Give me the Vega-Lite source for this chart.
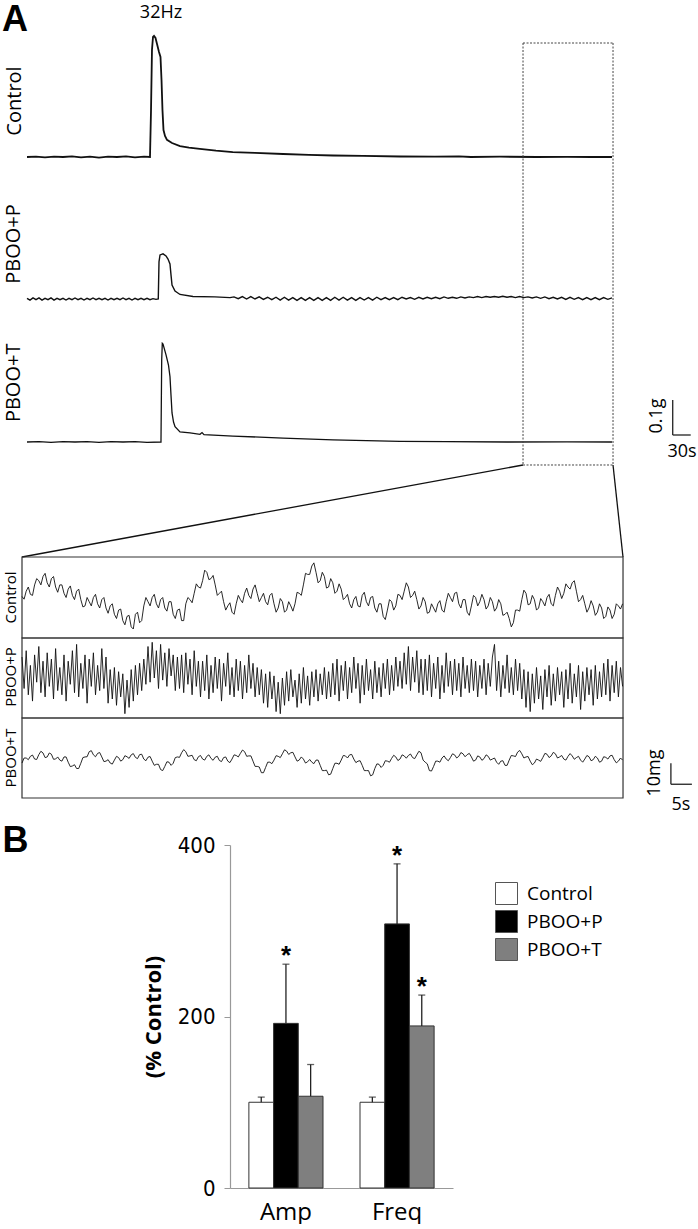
{
"$schema": "https://vega.github.io/schema/vega-lite/v6.json",
"padding": 0,
"spacing": 0,
"bounds": "flush",
"background": "white",
"config": {"view": {"stroke": null}, "font": "Open Sans", "text": {"color": "#000"}},
"datasets": {
"ctrl": [{"t":0,"g":0},{"t":15,"g":0.001},{"t":30,"g":-0.001},{"t":45,"g":0.001},{"t":60,"g":0},{"t":75,"g":0.0015},{"t":90,"g":-0.001},{"t":105,"g":0.001},{"t":120,"g":-0.0015},{"t":135,"g":0.001},{"t":150,"g":0},{"t":165,"g":0.0015},{"t":180,"g":-0.001},{"t":195,"g":0.001},{"t":205,"g":0},{"t":206.7,"g":0.134},{"t":208.3,"g":0.306},{"t":210,"g":0.343},{"t":211.7,"g":0.346},{"t":214.2,"g":0.34},{"t":216.7,"g":0.323},{"t":220,"g":0.3},{"t":222.5,"g":0.286},{"t":224.2,"g":0.22},{"t":225.8,"g":0.134},{"t":227.5,"g":0.077},{"t":230,"g":0.06},{"t":233.3,"g":0.049},{"t":241.7,"g":0.04},{"t":255,"g":0.031},{"t":270,"g":0.027},{"t":288,"g":0.023},{"t":315,"g":0.018},{"t":343,"g":0.014},{"t":380,"g":0.012},{"t":427,"g":0.0086},{"t":470,"g":0.006},{"t":510,"g":0.0043},{"t":560,"g":0.003},{"t":622,"g":0.0014},{"t":680,"g":0.001},{"t":720,"g":0.002},{"t":740,"g":0},{"t":788,"g":0.001},{"t":850,"g":0},{"t":900,"g":0.0005},{"t":940,"g":0},{"t":975,"g":0}],
"pbp": [{"t":0,"g":0.002},{"t":5,"g":-0.003},{"t":10,"g":0.003},{"t":15,"g":-0.002},{"t":20,"g":0.003},{"t":25,"g":-0.003},{"t":30,"g":0.002},{"t":35,"g":-0.002},{"t":40,"g":0.003},{"t":45,"g":-0.003},{"t":50,"g":0.002},{"t":55,"g":-0.002},{"t":60,"g":0.002},{"t":65,"g":-0.003},{"t":70,"g":0.002},{"t":75,"g":-0.002},{"t":80,"g":0.003},{"t":85,"g":-0.002},{"t":90,"g":0.002},{"t":95,"g":-0.003},{"t":100,"g":0.002},{"t":105,"g":-0.002},{"t":110,"g":0.003},{"t":115,"g":-0.002},{"t":120,"g":0.002},{"t":125,"g":-0.002},{"t":130,"g":0.002},{"t":135,"g":-0.003},{"t":140,"g":0.002},{"t":145,"g":-0.002},{"t":150,"g":0.002},{"t":155,"g":-0.002},{"t":160,"g":0.003},{"t":165,"g":-0.002},{"t":170,"g":0.002},{"t":175,"g":-0.003},{"t":180,"g":0.002},{"t":185,"g":-0.002},{"t":190,"g":0.002},{"t":195,"g":-0.002},{"t":200,"g":0.002},{"t":205,"g":-0.002},{"t":210,"g":0.001},{"t":215,"g":-0.001},{"t":218.8,"g":0},{"t":220,"g":0.106},{"t":221.7,"g":0.126},{"t":226.7,"g":0.129},{"t":231.7,"g":0.123},{"t":235,"g":0.114},{"t":238.3,"g":0.1},{"t":240,"g":0.069},{"t":241.7,"g":0.04},{"t":246.7,"g":0.023},{"t":255,"g":0.013},{"t":276.7,"g":0.007},{"t":313,"g":0.006},{"t":338.3,"g":0.004},{"t":345,"g":0.006},{"t":352,"g":0.001},{"t":359,"g":0.007},{"t":366,"g":0},{"t":373,"g":0.007},{"t":380,"g":0},{"t":387,"g":0.006},{"t":394,"g":-0.001},{"t":401,"g":0.005},{"t":408,"g":-0.002},{"t":415,"g":0.005},{"t":422,"g":-0.003},{"t":429,"g":0.005},{"t":436,"g":-0.003},{"t":443,"g":0.004},{"t":450,"g":-0.004},{"t":457,"g":0.004},{"t":464,"g":-0.004},{"t":471,"g":0.004},{"t":478,"g":-0.004},{"t":485,"g":0.004},{"t":492,"g":-0.004},{"t":499,"g":0.004},{"t":506,"g":-0.004},{"t":513,"g":0.005},{"t":520,"g":-0.003},{"t":527,"g":0.005},{"t":534,"g":-0.003},{"t":541,"g":0.004},{"t":548,"g":-0.004},{"t":555,"g":0.004},{"t":562,"g":-0.003},{"t":569,"g":0.004},{"t":576,"g":-0.003},{"t":583,"g":0.005},{"t":590,"g":-0.002},{"t":597,"g":0.004},{"t":604,"g":-0.002},{"t":611,"g":0.004},{"t":618,"g":-0.002},{"t":625,"g":0.005},{"t":632,"g":0},{"t":639,"g":0.004},{"t":646,"g":-0.001},{"t":653,"g":0.005},{"t":660,"g":0},{"t":667,"g":0.005},{"t":674,"g":0.001},{"t":681,"g":0.005},{"t":688,"g":0.001},{"t":695,"g":0.006},{"t":702,"g":0.002},{"t":709,"g":0.005},{"t":716,"g":0.002},{"t":723,"g":0.006},{"t":730,"g":0.003},{"t":737,"g":0.006},{"t":744,"g":0.004},{"t":751,"g":0.007},{"t":758,"g":0.004},{"t":765,"g":0.007},{"t":772,"g":0.005},{"t":779,"g":0.007},{"t":786,"g":0.005},{"t":793,"g":0.008},{"t":800,"g":0.005},{"t":807,"g":0.007},{"t":814,"g":0.004},{"t":821,"g":0.007},{"t":828,"g":0.004},{"t":835,"g":0.006},{"t":842,"g":0.003},{"t":849,"g":0.006},{"t":856,"g":0.002},{"t":863,"g":0.006},{"t":870,"g":0.001},{"t":877,"g":0.005},{"t":884,"g":0},{"t":891,"g":0.005},{"t":898,"g":-0.001},{"t":905,"g":0.005},{"t":912,"g":-0.001},{"t":919,"g":0.004},{"t":926,"g":-0.002},{"t":933,"g":0.004},{"t":940,"g":-0.002},{"t":947,"g":0.004},{"t":954,"g":-0.002},{"t":961,"g":0.004},{"t":968,"g":-0.001},{"t":975,"g":0.003}],
"pbt": [{"t":0,"g":0},{"t":20,"g":0.001},{"t":40,"g":-0.001},{"t":60,"g":0.001},{"t":80,"g":0},{"t":100,"g":0.001},{"t":120,"g":-0.001},{"t":140,"g":0.001},{"t":160,"g":0},{"t":180,"g":0.001},{"t":200,"g":-0.001},{"t":223.3,"g":0},{"t":224.5,"g":0.234},{"t":225.5,"g":0.282},{"t":226.7,"g":0.28},{"t":231.7,"g":0.249},{"t":235.8,"g":0.22},{"t":238.3,"g":0.187},{"t":240,"g":0.134},{"t":241.7,"g":0.083},{"t":244.2,"g":0.057},{"t":246.7,"g":0.044},{"t":255,"g":0.029},{"t":271.7,"g":0.026},{"t":288.3,"g":0.022},{"t":291.7,"g":0.027},{"t":295,"g":0.021},{"t":343.3,"g":0.017},{"t":426.7,"g":0.011},{"t":510,"g":0.006},{"t":621.7,"g":0.002},{"t":700,"g":0.001},{"t":800,"g":0},{"t":900,"g":0.0005},{"t":975,"g":0}],
"zc": [{"t":0,"v":0.5},{"t":1,"v":3},{"t":2,"v":1.5},{"t":3,"v":6},{"t":4,"v":8},{"t":5,"v":10},{"t":6,"v":7},{"t":7,"v":9},{"t":8,"v":5},{"t":9,"v":6},{"t":10,"v":2},{"t":11,"v":4},{"t":12,"v":1},{"t":13,"v":3},{"t":14,"v":-1},{"t":15,"v":-4},{"t":16,"v":-2},{"t":17,"v":0},{"t":18,"v":-3},{"t":19,"v":-1},{"t":20,"v":-5},{"t":21,"v":-4},{"t":22,"v":-8},{"t":23,"v":-6},{"t":24,"v":-11},{"t":25,"v":-9},{"t":26,"v":-14},{"t":27,"v":-8},{"t":28,"v":-12},{"t":29,"v":-4},{"t":30,"v":-2},{"t":31,"v":0},{"t":32,"v":-3},{"t":33,"v":-1},{"t":34,"v":-5},{"t":35,"v":-2},{"t":36,"v":-8},{"t":37,"v":-6},{"t":38,"v":-11},{"t":39,"v":-3},{"t":40,"v":-1},{"t":41,"v":2},{"t":42,"v":5},{"t":43,"v":8},{"t":44,"v":12},{"t":45,"v":9},{"t":46,"v":6},{"t":47,"v":2},{"t":48,"v":-2},{"t":49,"v":-4},{"t":50,"v":-7},{"t":51,"v":-3},{"t":52,"v":-1},{"t":53,"v":2},{"t":54,"v":1},{"t":55,"v":4},{"t":56,"v":2},{"t":57,"v":0},{"t":58,"v":-2},{"t":59,"v":1},{"t":60,"v":-3},{"t":61,"v":-5},{"t":62,"v":-2},{"t":63,"v":-6},{"t":64,"v":-4},{"t":65,"v":-3},{"t":66,"v":2},{"t":67,"v":6},{"t":68,"v":11},{"t":69,"v":15},{"t":70,"v":12},{"t":71,"v":8},{"t":72,"v":10},{"t":73,"v":5},{"t":74,"v":7},{"t":75,"v":3},{"t":76,"v":4},{"t":77,"v":0},{"t":78,"v":-3},{"t":79,"v":-1},{"t":80,"v":-4},{"t":81,"v":1},{"t":82,"v":-2},{"t":83,"v":0},{"t":84,"v":-5},{"t":85,"v":-3},{"t":86,"v":-9},{"t":87,"v":-6},{"t":88,"v":-2},{"t":89,"v":-4},{"t":90,"v":1},{"t":91,"v":3},{"t":92,"v":5},{"t":93,"v":1},{"t":94,"v":-1},{"t":95,"v":-4},{"t":96,"v":-2},{"t":97,"v":-7},{"t":98,"v":-5},{"t":99,"v":-3},{"t":100,"v":-6},{"t":101,"v":-2},{"t":102,"v":0},{"t":103,"v":2},{"t":104,"v":-3},{"t":105,"v":-1},{"t":106,"v":-7},{"t":107,"v":-4},{"t":108,"v":0},{"t":109,"v":-2},{"t":110,"v":-1},{"t":111,"v":-4},{"t":112,"v":-2},{"t":113,"v":-5},{"t":114,"v":-3},{"t":115,"v":-8},{"t":116,"v":-10},{"t":117,"v":-12},{"t":118,"v":-6},{"t":119,"v":-1},{"t":120,"v":2},{"t":121,"v":-3},{"t":122,"v":-1},{"t":123,"v":-5},{"t":124,"v":-2},{"t":125,"v":0},{"t":126,"v":-3},{"t":127,"v":1},{"t":128,"v":3},{"t":129,"v":2},{"t":130,"v":5},{"t":131,"v":7},{"t":132,"v":3},{"t":133,"v":-1},{"t":134,"v":-3},{"t":135,"v":-5},{"t":136,"v":-4},{"t":137,"v":-7},{"t":138,"v":-5},{"t":139,"v":-9},{"t":140,"v":-6},{"t":141,"v":-8},{"t":142,"v":-4},{"t":143,"v":-3},
{"t":0.5,"v":-0.8},{"t":1.5,"v":5},{"t":2.5,"v":1},{"t":3.5,"v":9},{"t":4.5,"v":6},{"t":5.5,"v":11.5},{"t":6.5,"v":5},{"t":7.5,"v":10},{"t":8.5,"v":2.5},{"t":9.5,"v":6},{"t":10.5,"v":0},{"t":11.5,"v":5.5},{"t":12.5,"v":-1},{"t":13.5,"v":4},{"t":14.5,"v":-4.5},{"t":15.5,"v":0},{"t":16.5,"v":-4},{"t":17.5,"v":1.5},{"t":18.5,"v":-5},{"t":19.5,"v":0},{"t":20.5,"v":-7.5},{"t":21.5,"v":-3},{"t":22.5,"v":-10},{"t":23.5,"v":-5.5},{"t":24.5,"v":-13},{"t":25.5,"v":-8.5},{"t":26.5,"v":-15},{"t":27.5,"v":-7},{"t":28.5,"v":-11},{"t":29.5,"v":0},{"t":30.5,"v":-4},{"t":31.5,"v":1.5},{"t":32.5,"v":-5},{"t":33.5,"v":0},{"t":34.5,"v":-6.5},{"t":35.5,"v":-2},{"t":36.5,"v":-10},{"t":37.5,"v":-5.5},{"t":38.5,"v":-11},{"t":39.5,"v":0},{"t":40.5,"v":-2.5},{"t":41.5,"v":6.5},{"t":42.5,"v":4.5},{"t":43.5,"v":13},{"t":44.5,"v":8.5},{"t":45.5,"v":10.5},{"t":46.5,"v":1},{"t":47.5,"v":3},{"t":48.5,"v":-6},{"t":49.5,"v":-2.5},{"t":50.5,"v":-8},{"t":51.5,"v":1},{"t":52.5,"v":-2.5},{"t":53.5,"v":4.5},{"t":54.5,"v":-0.5},{"t":55.5,"v":6},{"t":56.5,"v":-2},{"t":57.5,"v":2},{"t":58.5,"v":-3.5},{"t":59.5,"v":2},{"t":60.5,"v":-7},{"t":61.5,"v":-0.5},{"t":62.5,"v":-7},{"t":63.5,"v":-2},{"t":64.5,"v":-6.5},{"t":65.5,"v":2.5},{"t":66.5,"v":1},{"t":67.5,"v":11.5},{"t":68.5,"v":11},{"t":69.5,"v":16.5},{"t":70.5,"v":7},{"t":71.5,"v":12},{"t":72.5,"v":4.5},{"t":73.5,"v":9},{"t":74.5,"v":2},{"t":75.5,"v":6.5},{"t":76.5,"v":-1},{"t":77.5,"v":1.5},{"t":78.5,"v":-5},{"t":79.5,"v":0.5},{"t":80.5,"v":-4.5},{"t":81.5,"v":2.5},{"t":82.5,"v":-4},{"t":83.5,"v":0.5},{"t":84.5,"v":-7},{"t":85.5,"v":-3},{"t":86.5,"v":-10.5},{"t":87.5,"v":-1},{"t":88.5,"v":-6},{"t":89.5,"v":1.5},{"t":90.5,"v":-1},{"t":91.5,"v":7},{"t":92.5,"v":0},{"t":93.5,"v":3},{"t":94.5,"v":-5.5},{"t":95.5,"v":0},{"t":96.5,"v":-7.5},{"t":97.5,"v":-3},{"t":98.5,"v":-7},{"t":99.5,"v":-1.5},{"t":100.5,"v":-7},{"t":101.5,"v":2},{"t":102.5,"v":-2},{"t":103.5,"v":2.5},{"t":104.5,"v":-5},{"t":105.5,"v":-1},{"t":106.5,"v":-8.5},{"t":107.5,"v":1},{"t":108.5,"v":-4},{"t":109.5,"v":1.5},{"t":110.5,"v":-5.5},{"t":111.5,"v":0},{"t":112.5,"v":-6.5},{"t":113.5,"v":-1},{"t":114.5,"v":-8.5},{"t":115.5,"v":-7},{"t":116.5,"v":-14},{"t":117.5,"v":-6},{"t":118.5,"v":-6.5},{"t":119.5,"v":3.5},{"t":120.5,"v":-3.5},{"t":121.5,"v":1},{"t":122.5,"v":-6},{"t":123.5,"v":-0.5},{"t":124.5,"v":-4},{"t":125.5,"v":1.5},{"t":126.5,"v":-4},{"t":127.5,"v":5},{"t":128.5,"v":-0.5},{"t":129.5,"v":6.5},{"t":130.5,"v":4},{"t":131.5,"v":8},{"t":132.5,"v":-2},{"t":133.5,"v":1},{"t":134.5,"v":-7},{"t":135.5,"v":-1.5},{"t":136.5,"v":-8.5},{"t":137.5,"v":-3},{"t":138.5,"v":-10},{"t":139.5,"v":-4.5},{"t":140.5,"v":-10},{"t":141.5,"v":-3},{"t":142.5,"v":-5.5}],
"zp": [{"t":0,"v":10},{"t":0.5,"v":-5},{"t":1,"v":13},{"t":1.5,"v":-8},{"t":2,"v":6},{"t":2.5,"v":-11},{"t":3,"v":11},{"t":3.5,"v":-2},{"t":4,"v":15},{"t":4.5,"v":-7},{"t":5,"v":8},{"t":5.5,"v":-9},{"t":6,"v":12},{"t":6.5,"v":-4},{"t":7,"v":9},{"t":7.5,"v":-10},{"t":8,"v":14},{"t":8.5,"v":-6},{"t":9,"v":5},{"t":9.5,"v":-8},{"t":10,"v":11},{"t":10.5,"v":-11},{"t":11,"v":8},{"t":11.5,"v":-3},{"t":12,"v":13},{"t":12.5,"v":-7},{"t":13,"v":16},{"t":13.5,"v":-9},{"t":14,"v":7},{"t":14.5,"v":-5},{"t":15,"v":11},{"t":15.5,"v":-12},{"t":16,"v":9},{"t":16.5,"v":-4},{"t":17,"v":12},{"t":17.5,"v":-8},{"t":18,"v":6},{"t":18.5,"v":-6},{"t":19,"v":14},{"t":19.5,"v":-5},{"t":20,"v":10},{"t":20.5,"v":-12},{"t":21,"v":4},{"t":21.5,"v":-10},{"t":22,"v":5},{"t":22.5,"v":-13},{"t":23,"v":3},{"t":23.5,"v":-9},{"t":24,"v":2},{"t":24.5,"v":-17},{"t":25,"v":-1},{"t":25.5,"v":-14},{"t":26,"v":4},{"t":26.5,"v":-11},{"t":27,"v":6},{"t":27.5,"v":-8},{"t":28,"v":7},{"t":28.5,"v":-6},{"t":29,"v":9},{"t":29.5,"v":-3},{"t":30,"v":15},{"t":30.5,"v":-2},{"t":31,"v":17},{"t":31.5,"v":0},{"t":32,"v":13},{"t":32.5,"v":-5},{"t":33,"v":16},{"t":33.5,"v":-1},{"t":34,"v":12},{"t":34.5,"v":-4},{"t":35,"v":14},{"t":35.5,"v":1},{"t":36,"v":11},{"t":36.5,"v":-6},{"t":37,"v":10},{"t":37.5,"v":-5},{"t":38,"v":11},{"t":38.5,"v":-7},{"t":39,"v":12},{"t":39.5,"v":-3},{"t":40,"v":9},{"t":40.5,"v":-8},{"t":41,"v":13},{"t":41.5,"v":-4},{"t":42,"v":8},{"t":42.5,"v":-9},{"t":43,"v":8},{"t":43.5,"v":-6},{"t":44,"v":11},{"t":44.5,"v":-10},{"t":45,"v":6},{"t":45.5,"v":-7},{"t":46,"v":10},{"t":46.5,"v":-5},{"t":47,"v":9},{"t":47.5,"v":-11},{"t":48,"v":7},{"t":48.5,"v":-4},{"t":49,"v":12},{"t":49.5,"v":-8},{"t":50,"v":5},{"t":50.5,"v":-9},{"t":51,"v":9},{"t":51.5,"v":-6},{"t":52,"v":8},{"t":52.5,"v":-10},{"t":53,"v":6},{"t":53.5,"v":-7},{"t":54,"v":11},{"t":54.5,"v":-5},{"t":55,"v":7},{"t":55.5,"v":-9},{"t":56,"v":5},{"t":56.5,"v":-8},{"t":57,"v":4},{"t":57.5,"v":-12},{"t":58,"v":2},{"t":58.5,"v":-14},{"t":59,"v":3},{"t":59.5,"v":-10},{"t":60,"v":1},{"t":60.5,"v":-16},{"t":61,"v":-2},{"t":61.5,"v":-17},{"t":62,"v":0},{"t":62.5,"v":-13},{"t":63,"v":3},{"t":63.5,"v":-11},{"t":64,"v":4},{"t":64.5,"v":-9},{"t":65,"v":-1},{"t":65.5,"v":-14},{"t":66,"v":2},{"t":66.5,"v":-12},{"t":67,"v":5},{"t":67.5,"v":-10},{"t":68,"v":1},{"t":68.5,"v":-13},{"t":69,"v":3},{"t":69.5,"v":-9},{"t":70,"v":4},{"t":70.5,"v":-11},{"t":71,"v":2},{"t":71.5,"v":-8},{"t":72,"v":5},{"t":72.5,"v":-10},{"t":73,"v":3},{"t":73.5,"v":-9},{"t":74,"v":7},{"t":74.5,"v":-8},{"t":75,"v":9},{"t":75.5,"v":-11},{"t":76,"v":6},{"t":76.5,"v":-6},{"t":77,"v":8},{"t":77.5,"v":-10},{"t":78,"v":5},{"t":78.5,"v":-7},{"t":79,"v":10},{"t":79.5,"v":-5},{"t":80,"v":7},{"t":80.5,"v":-12},{"t":81,"v":6},{"t":81.5,"v":-8},{"t":82,"v":9},{"t":82.5,"v":-6},{"t":83,"v":4},{"t":83.5,"v":-10},{"t":84,"v":8},{"t":84.5,"v":-7},{"t":85,"v":5},{"t":85.5,"v":-9},{"t":86,"v":7},{"t":86.5,"v":-5},{"t":87,"v":9},{"t":87.5,"v":-8},{"t":88,"v":6},{"t":88.5,"v":-6},{"t":89,"v":10},{"t":89.5,"v":-4},{"t":90,"v":8},{"t":90.5,"v":-5},{"t":91,"v":12},{"t":91.5,"v":-3},{"t":92,"v":15},{"t":92.5,"v":-6},{"t":93,"v":10},{"t":93.5,"v":-2},{"t":94,"v":13},{"t":94.5,"v":-7},{"t":95,"v":9},{"t":95.5,"v":-8},{"t":96,"v":9},{"t":96.5,"v":-6},{"t":97,"v":11},{"t":97.5,"v":-9},{"t":98,"v":7},{"t":98.5,"v":-5},{"t":99,"v":10},{"t":99.5,"v":-10},{"t":100,"v":6},{"t":100.5,"v":-7},{"t":101,"v":12},{"t":101.5,"v":-4},{"t":102,"v":8},{"t":102.5,"v":-8},{"t":103,"v":9},{"t":103.5,"v":-6},{"t":104,"v":7},{"t":104.5,"v":-9},{"t":105,"v":10},{"t":105.5,"v":-5},{"t":106,"v":6},{"t":106.5,"v":-7},{"t":107,"v":9},{"t":107.5,"v":-6},{"t":108,"v":8},{"t":108.5,"v":-9},{"t":109,"v":6},{"t":109.5,"v":-5},{"t":110,"v":9},{"t":110.5,"v":-8},{"t":111,"v":7},{"t":111.5,"v":-4},{"t":112,"v":10},{"t":112.5,"v":16},{"t":113,"v":-6},{"t":113.5,"v":8},{"t":114,"v":-9},{"t":114.5,"v":6},{"t":115,"v":-5},{"t":115.5,"v":11},{"t":116,"v":-7},{"t":116.5,"v":5},{"t":117,"v":-8},{"t":117.5,"v":9},{"t":118,"v":-6},{"t":118.5,"v":7},{"t":119,"v":-10},{"t":119.5,"v":4},{"t":120,"v":-14},{"t":120.5,"v":3},{"t":121,"v":-16},{"t":121.5,"v":2},{"t":122,"v":-12},{"t":122.5,"v":5},{"t":123,"v":-10},{"t":123.5,"v":1},{"t":124,"v":-15},{"t":124.5,"v":4},{"t":125,"v":-9},{"t":125.5,"v":6},{"t":126,"v":-13},{"t":126.5,"v":2},{"t":127,"v":-11},{"t":127.5,"v":5},{"t":128,"v":-8},{"t":128.5,"v":3},{"t":129,"v":-14},{"t":129.5,"v":4},{"t":130,"v":-10},{"t":130.5,"v":7},{"t":131,"v":-12},{"t":131.5,"v":2},{"t":132,"v":-9},{"t":132.5,"v":6},{"t":133,"v":-15},{"t":133.5,"v":3},{"t":134,"v":-11},{"t":134.5,"v":5},{"t":135,"v":-8},{"t":135.5,"v":4},{"t":136,"v":-13},{"t":136.5,"v":6},{"t":137,"v":-10},{"t":137.5,"v":3},{"t":138,"v":-9},{"t":138.5,"v":7},{"t":139,"v":-8},{"t":139.5,"v":9},{"t":140,"v":-11},{"t":140.5,"v":6},{"t":141,"v":-7},{"t":141.5,"v":8},{"t":142,"v":-9},{"t":142.5,"v":5},{"t":143,"v":-4}],
"zt": [{"t":0,"v":-2.4},{"t":1,"v":0},{"t":2,"v":0.8},{"t":3,"v":-0.5},{"t":4,"v":1.6},{"t":5,"v":2.4},{"t":6,"v":0.5},{"t":7,"v":1.8},{"t":8,"v":-0.5},{"t":9,"v":-1},{"t":10,"v":0.5},{"t":11,"v":-2},{"t":12,"v":-3.8},{"t":13,"v":-5},{"t":14,"v":-2.5},{"t":15,"v":0.5},{"t":16,"v":3},{"t":17,"v":1.5},{"t":18,"v":2.2},{"t":19,"v":0.5},{"t":20,"v":-1.5},{"t":21,"v":-2.4},{"t":22,"v":-1},{"t":23,"v":0.2},{"t":24,"v":-0.8},{"t":25,"v":0.6},{"t":26,"v":1.5},{"t":27,"v":0.3},{"t":28,"v":1.6},{"t":29,"v":-0.5},{"t":30,"v":0.4},{"t":31,"v":-1.5},{"t":32,"v":-3},{"t":33,"v":-5.5},{"t":34,"v":-4},{"t":35,"v":-2},{"t":36,"v":-2.5},{"t":37,"v":0.5},{"t":38,"v":2.5},{"t":39,"v":3},{"t":40,"v":1},{"t":41,"v":-0.8},{"t":42,"v":0.6},{"t":43,"v":-0.5},{"t":44,"v":0.8},{"t":45,"v":-0.2},{"t":46,"v":0.4},{"t":47,"v":-1.2},{"t":48,"v":0.2},{"t":49,"v":-1.5},{"t":50,"v":-0.5},{"t":51,"v":1.2},{"t":52,"v":2.2},{"t":53,"v":3},{"t":54,"v":1},{"t":55,"v":-1.5},{"t":56,"v":-4},{"t":57,"v":-7},{"t":58,"v":-4.5},{"t":59,"v":-2},{"t":60,"v":-1},{"t":61,"v":0.8},{"t":62,"v":2},{"t":63,"v":3.3},{"t":64,"v":2.5},{"t":65,"v":0.5},{"t":66,"v":-1},{"t":67,"v":-0.5},{"t":68,"v":-1.8},{"t":69,"v":-2},{"t":70,"v":-1},{"t":71,"v":-3.5},{"t":72,"v":-6},{"t":73,"v":-8},{"t":74,"v":-5},{"t":75,"v":-2.5},{"t":76,"v":-1},{"t":77,"v":1},{"t":78,"v":1.5},{"t":79,"v":-0.5},{"t":80,"v":-1.5},{"t":81,"v":-3.5},{"t":82,"v":-6},{"t":83,"v":-8.5},{"t":84,"v":-5},{"t":85,"v":-3},{"t":86,"v":-3.5},{"t":87,"v":-1.5},{"t":88,"v":-0.2},{"t":89,"v":0.5},{"t":90,"v":-0.5},{"t":91,"v":1},{"t":92,"v":1.2},{"t":93,"v":0.2},{"t":94,"v":1.5},{"t":95,"v":2.5},{"t":96,"v":-2},{"t":97,"v":-6},{"t":98,"v":-4},{"t":99,"v":-1.5},{"t":100,"v":0},{"t":101,"v":-0.5},{"t":102,"v":0.2},{"t":103,"v":1.5},{"t":104,"v":0.8},{"t":105,"v":2},{"t":106,"v":1.6},{"t":107,"v":0.5},{"t":108,"v":-1},{"t":109,"v":0.5},{"t":110,"v":-0.3},{"t":111,"v":0.8},{"t":112,"v":-0.5},{"t":113,"v":-2},{"t":114,"v":-1.5},{"t":115,"v":-3.5},{"t":116,"v":-1},{"t":117,"v":1},{"t":118,"v":2.8},{"t":119,"v":2},{"t":120,"v":0.5},{"t":121,"v":-1.5},{"t":122,"v":-2.4},{"t":123,"v":-1},{"t":124,"v":0.2},{"t":125,"v":1.8},{"t":126,"v":1},{"t":127,"v":2},{"t":128,"v":0.5},{"t":129,"v":-0.5},{"t":130,"v":0.8},{"t":131,"v":1},{"t":132,"v":0.2},{"t":133,"v":-1},{"t":134,"v":-0.5},{"t":135,"v":0.6},{"t":136,"v":-0.8},{"t":137,"v":0},{"t":138,"v":-1.5},{"t":139,"v":0.3},{"t":140,"v":1},{"t":141,"v":-0.8},{"t":142,"v":-1.5},{"t":143,"v":-1},
{"t":0.5,"v":0},{"t":1.5,"v":-0.8},{"t":2.5,"v":1.4},{"t":3.5,"v":-0.7},{"t":4.5,"v":3.2},{"t":5.5,"v":0.2},{"t":6.5,"v":2.4},{"t":7.5,"v":-0.6},{"t":8.5,"v":0.5},{"t":9.5,"v":-1.5},{"t":10.5,"v":0.5},{"t":11.5,"v":-4.1},{"t":12.5,"v":-3.2},{"t":13.5,"v":-5},{"t":14.5,"v":0.2},{"t":15.5,"v":0.6},{"t":16.5,"v":3.5},{"t":17.5,"v":0.6},{"t":18.5,"v":2.6},{"t":19.5,"v":-1.7},{"t":20.5,"v":-0.8},{"t":21.5,"v":-2.9},{"t":22.5,"v":0.8},{"t":23.5,"v":-1.5},{"t":24.5,"v":1.1},{"t":25.5,"v":-0.2},{"t":26.5,"v":2.1},{"t":27.5,"v":-0.3},{"t":28.5,"v":1.8},{"t":29.5,"v":-1.3},{"t":30.5,"v":0.7},{"t":31.5,"v":-3.5},{"t":32.5,"v":-3},{"t":33.5,"v":-6},{"t":34.5,"v":-1.8},{"t":35.5,"v":-3.5},{"t":36.5,"v":0.2},{"t":37.5,"v":0.3},{"t":38.5,"v":4},{"t":39.5,"v":0.8},{"t":40.5,"v":1.3},{"t":41.5,"v":-1.3},{"t":42.5,"v":1.2},{"t":43.5,"v":-1},{"t":44.5,"v":1.5},{"t":45.5,"v":-1.1},{"t":46.5,"v":0.8},{"t":47.5,"v":-1.7},{"t":48.5,"v":0.5},{"t":49.5,"v":-2.2},{"t":50.5,"v":1.5},{"t":51.5,"v":0.5},{"t":52.5,"v":3.8},{"t":53.5,"v":0.8},{"t":54.5,"v":1},{"t":55.5,"v":-4},{"t":56.5,"v":-4.3},{"t":57.5,"v":-7},{"t":58.5,"v":-2},{"t":59.5,"v":-2.7},{"t":60.5,"v":1.1},{"t":61.5,"v":0.2},{"t":62.5,"v":3.9},{"t":63.5,"v":1.7},{"t":64.5,"v":2.7},{"t":65.5,"v":-1.5},{"t":66.5,"v":0.5},{"t":67.5,"v":-2.4},{"t":68.5,"v":-0.7},{"t":69.5,"v":-2.7},{"t":70.5,"v":-1},{"t":71.5,"v":-6},{"t":72.5,"v":-5.8},{"t":73.5,"v":-7.7},{"t":74.5,"v":-2.5},{"t":75.5,"v":-3},{"t":76.5,"v":1.2},{"t":77.5,"v":0},{"t":78.5,"v":1.7},{"t":79.5,"v":-2.2},{"t":80.5,"v":-1.3},{"t":81.5,"v":-6},{"t":82.5,"v":-6},{"t":83.5,"v":-8},{"t":84.5,"v":-2.8},{"t":85.5,"v":-4.5},{"t":86.5,"v":-1.3},{"t":87.5,"v":-2},{"t":88.5,"v":1.3},{"t":89.5,"v":-1.2},{"t":90.5,"v":1.5},{"t":91.5,"v":-0.1},{"t":92.5,"v":1.9},{"t":93.5,"v":-0.3},{"t":94.5,"v":3.2},{"t":95.5,"v":-1},{"t":96.5,"v":-2.8},{"t":97.5,"v":-6.2},{"t":98.5,"v":-1.5},{"t":99.5,"v":-2},{"t":100.5,"v":1},{"t":101.5,"v":-1.3},{"t":102.5,"v":2},{"t":103.5,"v":0},{"t":104.5,"v":2.6},{"t":105.5,"v":0.6},{"t":106.5,"v":2.2},{"t":107.5,"v":-1.5},{"t":108.5,"v":1},{"t":109.5,"v":-1.1},{"t":110.5,"v":1.5},{"t":111.5,"v":-1},{"t":112.5,"v":0},{"t":113.5,"v":-3},{"t":114.5,"v":-1.3},{"t":115.5,"v":-3.5},{"t":116.5,"v":1.2},{"t":117.5,"v":0.7},{"t":118.5,"v":3.6},{"t":119.5,"v":0},{"t":120.5,"v":0.7},{"t":121.5,"v":-3.2},{"t":122.5,"v":-0.5},{"t":123.5,"v":-1.6},{"t":124.5,"v":2.2},{"t":125.5,"v":0.2},{"t":126.5,"v":2.7},{"t":127.5,"v":0},{"t":128.5,"v":1.2},{"t":129.5,"v":-1},{"t":130.5,"v":2.1},{"t":131.5,"v":-0.6},{"t":132.5,"v":0.8},{"t":133.5,"v":-2},{"t":134.5,"v":1.2},{"t":135.5,"v":-1.3},{"t":136.5,"v":0.8},{"t":137.5,"v":-2},{"t":138.5,"v":0.6},{"t":139.5,"v":-0.5},{"t":140.5,"v":1.3},{"t":141.5,"v":-2.3},{"t":142.5,"v":0}],
"bars": [{"measure":"Amp","group":"Control","value":100,"hi":106,"sig":""},{"measure":"Amp","group":"PBOO+P","value":192,"hi":261,"sig":"*"},{"measure":"Amp","group":"PBOO+T","value":107,"hi":144,"sig":""},{"measure":"Freq","group":"Control","value":100,"hi":106,"sig":""},{"measure":"Freq","group":"PBOO+P","value":308,"hi":378,"sig":"*"},{"measure":"Freq","group":"PBOO+T","value":189,"hi":225,"sig":"*"}]
},
"vconcat": [
{
"width": 698, "height": 228,
"encoding": {
"x": {"field": "t", "type": "quantitative", "scale": {"domain": [-45, 1118.333], "nice": false, "zero": false}, "axis": null},
"y": {"field": "g", "type": "quantitative", "scale": {"domain": [-0.20286, 0.44857], "nice": false, "zero": false}, "axis": null}
},
"layer": [
{"data": {"name": "ctrl"}, "mark": {"type": "line", "color": "#111", "strokeWidth": 1.8}},
{"data": {"values": [{"t": 826.7, "g": 0.3257, "t2": 976.7, "g2": 0.3257}, {"t": 826.7, "g": 0.3257, "t2": 826.7, "g2": -0.20286}, {"t": 976.7, "g": 0.3257, "t2": 976.7, "g2": -0.20286}]}, "mark": {"type": "rule", "color": "#444", "strokeWidth": 1, "strokeDash": [2, 1.5]}, "encoding": {"x2": {"field": "t2"}, "y2": {"field": "g2"}}},
{"data": {"values": [{"t": -20, "g": 0.36, "label": "A"}]}, "mark": {"type": "text", "font": "Liberation Sans", "fontWeight": "bold", "fontSize": 36, "align": "center", "baseline": "alphabetic"}, "encoding": {"text": {"field": "label"}}},
{"data": {"values": [{"t": 223.3, "g": 0.397, "label": "32Hz"}]}, "mark": {"type": "text", "fontSize": 18, "align": "center", "baseline": "alphabetic"}, "encoding": {"text": {"field": "label"}}},
{"data": {"values": [{"t": -20, "g": 0.16, "label": "Control"}]}, "mark": {"type": "text", "fontSize": 20, "angle": 270, "align": "center", "baseline": "middle"}, "encoding": {"text": {"field": "label"}}}
]
},
{
"width": 698, "height": 143,
"encoding": {
"x": {"field": "t", "type": "quantitative", "scale": {"domain": [-45, 1118.333], "nice": false, "zero": false}, "axis": null},
"y": {"field": "g", "type": "quantitative", "scale": {"domain": [-0.20571, 0.20286], "nice": false, "zero": false}, "axis": null}
},
"layer": [
{"data": {"name": "pbp"}, "mark": {"type": "line", "color": "#111", "strokeWidth": 1.4}},
{"data": {"values": [{"t": 826.7, "g": 0.20286, "t2": 826.7, "g2": -0.20571}, {"t": 976.7, "g": 0.20286, "t2": 976.7, "g2": -0.20571}]}, "mark": {"type": "rule", "color": "#444", "strokeWidth": 1, "strokeDash": [2, 1.5]}, "encoding": {"x2": {"field": "t2"}, "y2": {"field": "g2"}}},
{"data": {"values": [{"t": -21.7, "g": 0.157, "label": "PBOO+P"}]}, "mark": {"type": "text", "fontSize": 20, "angle": 270, "align": "center", "baseline": "middle"}, "encoding": {"text": {"field": "label"}}}
]
},
{
"width": 698, "height": 186,
"encoding": {
"x": {"field": "t", "type": "quantitative", "scale": {"domain": [-45, 1118.333], "nice": false, "zero": false}, "axis": null},
"y": {"field": "g", "type": "quantitative", "scale": {"domain": [-0.32857, 0.20286], "nice": false, "zero": false}, "axis": null}
},
"layer": [
{"data": {"name": "pbt"}, "mark": {"type": "line", "color": "#111", "strokeWidth": 1.3}},
{"data": {"values": [{"t": 826.7, "g": 0.20286, "t2": 826.7, "g2": -0.0657}, {"t": 976.7, "g": 0.20286, "t2": 976.7, "g2": -0.0657}, {"t": 826.7, "g": -0.0657, "t2": 976.7, "g2": -0.0657}]}, "mark": {"type": "rule", "color": "#444", "strokeWidth": 1, "strokeDash": [2, 1.5]}, "encoding": {"x2": {"field": "t2"}, "y2": {"field": "g2"}}},
{"data": {"values": [{"t": 826.7, "g": -0.0657, "t2": -8.33, "g2": -0.32857}, {"t": 976.7, "g": -0.0657, "t2": 993.3, "g2": -0.32857}]}, "mark": {"type": "rule", "color": "#111", "strokeWidth": 1.3}, "encoding": {"x2": {"field": "t2"}, "y2": {"field": "g2"}}},
{"data": {"values": [{"t": 1076.2, "g": 0.12, "t2": 1076.2, "g2": 0.02}, {"t": 1076.2, "g": 0.02, "t2": 1106.2, "g2": 0.02}]}, "mark": {"type": "rule", "color": "#222", "strokeWidth": 1.3}, "encoding": {"x2": {"field": "t2"}, "y2": {"field": "g2"}}},
{"data": {"values": [{"t": -21.7, "g": 0.169, "label": "PBOO+T"}]}, "mark": {"type": "text", "fontSize": 20, "angle": 270, "align": "center", "baseline": "middle"}, "encoding": {"text": {"field": "label"}}},
{"data": {"values": [{"t": 1050, "g": 0.0743, "label": "0.1g"}]}, "mark": {"type": "text", "fontSize": 18, "angle": 270, "align": "center", "baseline": "middle"}, "encoding": {"text": {"field": "label"}}},
{"data": {"values": [{"t": 1091.7, "g": -0.0286, "label": "30s"}]}, "mark": {"type": "text", "fontSize": 18, "align": "center", "baseline": "middle"}, "encoding": {"text": {"field": "label"}}}
]
},
{
"width": 698, "height": 81,
"encoding": {
"x": {"field": "t", "type": "quantitative", "scale": {"domain": [-5.2381, 160.9524], "nice": false, "zero": false}, "axis": null},
"y": {"field": "v", "type": "quantitative", "scale": {"domain": [-19.2857, 19.2857], "nice": false, "zero": false}, "axis": null}
},
"layer": [
{"data": {"values": [{"t": 0, "t2": 143.1, "v": 19.2857, "v2": -19.2857}]}, "mark": {"type": "rect", "fill": "transparent", "stroke": "#333", "strokeWidth": 1.2}, "encoding": {"x2": {"field": "t2"}, "y2": {"field": "v2"}}},
{"data": {"name": "zc"}, "mark": {"type": "line", "color": "#111", "strokeWidth": 0.9}},
{"data": {"values": [{"t": -2.62, "v": 0, "label": "Control"}]}, "mark": {"type": "text", "fontSize": 15, "angle": 270, "align": "center", "baseline": "middle"}, "encoding": {"text": {"field": "label"}}}
]
},
{
"width": 698, "height": 80,
"encoding": {
"x": {"field": "t", "type": "quantitative", "scale": {"domain": [-5.2381, 160.9524], "nice": false, "zero": false}, "axis": null},
"y": {"field": "v", "type": "quantitative", "scale": {"domain": [-19.0476, 19.0476], "nice": false, "zero": false}, "axis": null}
},
"layer": [
{"data": {"values": [{"t": 0, "t2": 143.1, "v": 19.0476, "v2": -19.0476}]}, "mark": {"type": "rect", "fill": "transparent", "stroke": "#333", "strokeWidth": 1.2}, "encoding": {"x2": {"field": "t2"}, "y2": {"field": "v2"}}},
{"data": {"name": "zp"}, "mark": {"type": "line", "color": "#111", "strokeWidth": 0.9}},
{"data": {"values": [{"t": -2.62, "v": 0.5, "label": "PBOO+P"}]}, "mark": {"type": "text", "fontSize": 15, "angle": 270, "align": "center", "baseline": "middle"}, "encoding": {"text": {"field": "label"}}}
]
},
{
"width": 698, "height": 127,
"encoding": {
"x": {"field": "t", "type": "quantitative", "scale": {"domain": [-5.2381, 160.9524], "nice": false, "zero": false}, "axis": null},
"y": {"field": "v", "type": "quantitative", "scale": {"domain": [-41.4286, 19.0476], "nice": false, "zero": false}, "axis": null}
},
"layer": [
{"data": {"values": [{"t": 0, "t2": 143.1, "v": 19.0476, "v2": -19.0476}]}, "mark": {"type": "rect", "fill": "transparent", "stroke": "#333", "strokeWidth": 1.2}, "encoding": {"x2": {"field": "t2"}, "y2": {"field": "v2"}}},
{"data": {"name": "zt"}, "mark": {"type": "line", "color": "#111", "strokeWidth": 0.9}},
{"data": {"values": [{"t": 154.5, "v": -2.5, "t2": 154.5, "v2": -12.5}, {"t": 154.5, "v": -12.5, "t2": 159.5, "v2": -12.5}]}, "mark": {"type": "rule", "color": "#222", "strokeWidth": 1.3}, "encoding": {"x2": {"field": "t2"}, "y2": {"field": "v2"}}},
{"data": {"values": [{"t": -2.62, "v": 0, "label": "PBOO+T"}]}, "mark": {"type": "text", "fontSize": 15, "angle": 270, "align": "center", "baseline": "middle"}, "encoding": {"text": {"field": "label"}}},
{"data": {"values": [{"t": 150.7, "v": -7.14, "label": "10mg"}]}, "mark": {"type": "text", "fontSize": 18, "angle": 270, "align": "center", "baseline": "middle"}, "encoding": {"text": {"field": "label"}}},
{"data": {"values": [{"t": 156.9, "v": -22.4, "label": "5s"}]}, "mark": {"type": "text", "fontSize": 18, "align": "center", "baseline": "middle"}, "encoding": {"text": {"field": "label"}}},
{"data": {"values": [{"t": -1.548, "v": -44.76, "label": "B"}]}, "mark": {"type": "text", "font": "Liberation Sans", "fontWeight": "bold", "fontSize": 36, "align": "center", "baseline": "alphabetic"}, "encoding": {"text": {"field": "label"}}}
]
},
{
"spacing": 0,
"bounds": "flush",
"hconcat": [
{"width": 230, "height": 343, "data": {"values": [{"a": 1}]}, "mark": {"type": "text", "text": ""}},
{
"width": 223, "height": 343,
"data": {"name": "bars"},
"encoding": {
"x": {"field": "measure", "type": "nominal", "sort": ["Amp", "Freq"], "scale": {"paddingInner": 0.333, "paddingOuter": 0.17}, "axis": {"title": null, "labelAngle": 0, "ticks": false, "tickSize": 0, "labelPadding": 12, "labelFontSize": 24, "labelColor": "#000", "domainColor": "#999", "domainWidth": 1.2}},
"xOffset": {"field": "group", "type": "nominal", "sort": ["Control", "PBOO+P", "PBOO+T"], "scale": {"paddingInner": 0, "paddingOuter": 0}}
},
"layer": [
{"mark": {"type": "bar", "stroke": "#333", "strokeWidth": 1},
 "encoding": {
 "y": {"field": "value", "type": "quantitative", "scale": {"domain": [0, 400], "nice": false}, "axis": {"title": "(% Control)", "values": [0, 200, 400], "grid": false, "domainColor": "#999", "domainWidth": 1.2, "tickColor": "#999", "tickSize": 6, "labelFontSize": 22, "labelFont": "Liberation Sans Narrow, DejaVu Sans Condensed, sans-serif", "labelColor": "#000", "labelPadding": 9, "titleFontSize": 22, "titleFontWeight": "bold", "titleColor": "#000", "titlePadding": 12}},
 "color": {"field": "group", "type": "nominal", "scale": {"domain": ["Control", "PBOO+P", "PBOO+T"], "range": ["#ffffff", "#000000", "#7f7f7f"]}, "legend": {"title": null, "orient": "none", "legendX": 495, "legendY": 882, "symbolType": "square", "symbolSize": 484, "symbolStrokeColor": "#555", "symbolStrokeWidth": 1, "symbolOpacity": 1, "labelFontSize": 19, "labelColor": "#000", "labelOffset": 9, "rowPadding": 1, "padding": 0}}
 }},
{"mark": {"type": "rule", "color": "#222", "strokeWidth": 1.3}, "encoding": {"y": {"field": "value", "type": "quantitative"}, "y2": {"field": "hi"}}},
{"mark": {"type": "tick", "orient": "horizontal", "size": 7, "thickness": 1.3, "color": "#222"}, "encoding": {"y": {"field": "hi", "type": "quantitative"}}},
{"mark": {"type": "text", "font": "Liberation Sans", "fontSize": 26, "fontWeight": "bold", "baseline": "alphabetic", "align": "center"}, "encoding": {"y": {"field": "hi", "type": "quantitative"}, "text": {"field": "sig"}}}
]
}
]
}
]
}
